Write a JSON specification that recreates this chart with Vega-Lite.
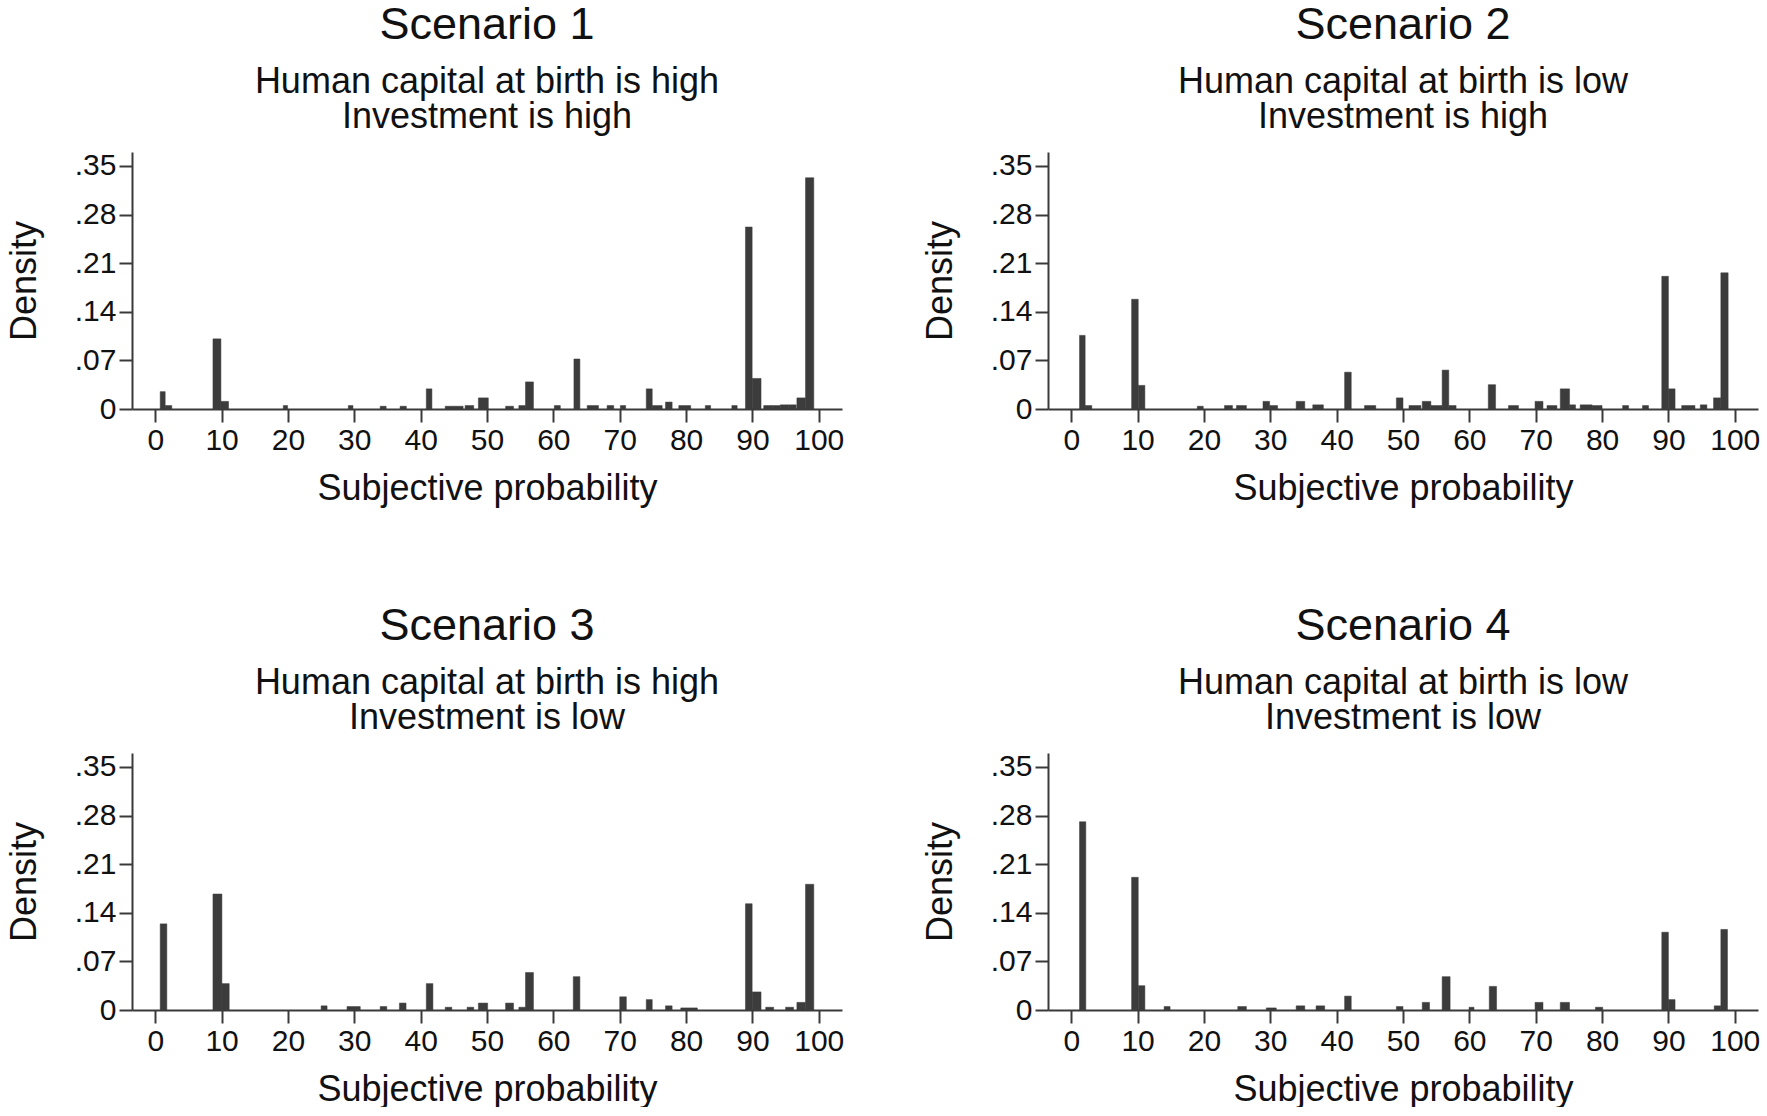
{
  "$schema": "https://vega.github.io/schema/vega-lite/v6.json",
  "background": "white",
  "padding": {"left": 6, "top": 2, "right": 4, "bottom": 0},
  "datasets": {
    "bars": [
      {"scenario": 1, "x0": 0.75, "x1": 1.5, "density": 0.025},
      {"scenario": 1, "x0": 1.5, "x1": 2.5, "density": 0.005},
      {"scenario": 1, "x0": 8.7, "x1": 9.9, "density": 0.101},
      {"scenario": 1, "x0": 9.9, "x1": 11.05, "density": 0.011},
      {"scenario": 1, "x0": 19.3, "x1": 19.95, "density": 0.005},
      {"scenario": 1, "x0": 29.1, "x1": 29.8, "density": 0.005},
      {"scenario": 1, "x0": 33.9, "x1": 34.8, "density": 0.004},
      {"scenario": 1, "x0": 36.9, "x1": 37.85, "density": 0.004},
      {"scenario": 1, "x0": 40.85, "x1": 41.7, "density": 0.029},
      {"scenario": 1, "x0": 43.7, "x1": 45.2, "density": 0.004},
      {"scenario": 1, "x0": 45.2, "x1": 46.4, "density": 0.004},
      {"scenario": 1, "x0": 46.7, "x1": 48.0, "density": 0.005},
      {"scenario": 1, "x0": 48.7, "x1": 50.2, "density": 0.016},
      {"scenario": 1, "x0": 52.8, "x1": 54.0, "density": 0.004},
      {"scenario": 1, "x0": 54.8, "x1": 55.8, "density": 0.005},
      {"scenario": 1, "x0": 55.8, "x1": 57.0, "density": 0.039},
      {"scenario": 1, "x0": 60.15, "x1": 61.05, "density": 0.005},
      {"scenario": 1, "x0": 63.1, "x1": 64.0, "density": 0.072},
      {"scenario": 1, "x0": 65.1, "x1": 66.8, "density": 0.005},
      {"scenario": 1, "x0": 68.1, "x1": 69.1, "density": 0.005},
      {"scenario": 1, "x0": 70.1, "x1": 70.9, "density": 0.005},
      {"scenario": 1, "x0": 74.0, "x1": 74.9, "density": 0.029},
      {"scenario": 1, "x0": 74.9, "x1": 76.4, "density": 0.005},
      {"scenario": 1, "x0": 76.9, "x1": 77.9, "density": 0.010},
      {"scenario": 1, "x0": 78.9, "x1": 80.7, "density": 0.005},
      {"scenario": 1, "x0": 82.9, "x1": 83.7, "density": 0.005},
      {"scenario": 1, "x0": 86.9, "x1": 87.7, "density": 0.005},
      {"scenario": 1, "x0": 88.95, "x1": 89.96, "density": 0.262},
      {"scenario": 1, "x0": 89.96, "x1": 91.3, "density": 0.044},
      {"scenario": 1, "x0": 91.7, "x1": 93.0, "density": 0.005},
      {"scenario": 1, "x0": 93.0, "x1": 94.2, "density": 0.005},
      {"scenario": 1, "x0": 94.2, "x1": 95.4, "density": 0.006},
      {"scenario": 1, "x0": 95.4, "x1": 96.6, "density": 0.006},
      {"scenario": 1, "x0": 96.7, "x1": 98.0, "density": 0.016},
      {"scenario": 1, "x0": 98.0, "x1": 99.25, "density": 0.333},

      {"scenario": 2, "x0": 1.25, "x1": 2.1, "density": 0.106},
      {"scenario": 2, "x0": 2.1, "x1": 3.1, "density": 0.005},
      {"scenario": 2, "x0": 9.1, "x1": 10.1, "density": 0.158},
      {"scenario": 2, "x0": 10.1, "x1": 11.1, "density": 0.034},
      {"scenario": 2, "x0": 19.0, "x1": 19.9, "density": 0.004},
      {"scenario": 2, "x0": 23.1, "x1": 24.3, "density": 0.005},
      {"scenario": 2, "x0": 24.9, "x1": 26.4, "density": 0.005},
      {"scenario": 2, "x0": 28.9, "x1": 29.9, "density": 0.011},
      {"scenario": 2, "x0": 29.9, "x1": 31.1, "density": 0.005},
      {"scenario": 2, "x0": 33.9, "x1": 35.2, "density": 0.011},
      {"scenario": 2, "x0": 36.4, "x1": 38.0, "density": 0.006},
      {"scenario": 2, "x0": 41.2, "x1": 42.2, "density": 0.053},
      {"scenario": 2, "x0": 44.2, "x1": 45.9, "density": 0.005},
      {"scenario": 2, "x0": 49.0, "x1": 50.0, "density": 0.016},
      {"scenario": 2, "x0": 50.9, "x1": 52.7, "density": 0.005},
      {"scenario": 2, "x0": 52.9, "x1": 54.2, "density": 0.011},
      {"scenario": 2, "x0": 54.2, "x1": 55.9, "density": 0.005},
      {"scenario": 2, "x0": 55.9, "x1": 56.9, "density": 0.056},
      {"scenario": 2, "x0": 56.9, "x1": 58.0, "density": 0.005},
      {"scenario": 2, "x0": 62.85, "x1": 63.95, "density": 0.035},
      {"scenario": 2, "x0": 65.9, "x1": 67.4, "density": 0.005},
      {"scenario": 2, "x0": 69.9, "x1": 71.1, "density": 0.011},
      {"scenario": 2, "x0": 71.7, "x1": 73.2, "density": 0.005},
      {"scenario": 2, "x0": 73.7, "x1": 75.1, "density": 0.029},
      {"scenario": 2, "x0": 75.1, "x1": 76.0, "density": 0.006},
      {"scenario": 2, "x0": 76.7, "x1": 78.5, "density": 0.006},
      {"scenario": 2, "x0": 78.5, "x1": 80.0, "density": 0.005},
      {"scenario": 2, "x0": 83.1, "x1": 84.0, "density": 0.005},
      {"scenario": 2, "x0": 86.1, "x1": 87.0, "density": 0.005},
      {"scenario": 2, "x0": 89.0, "x1": 90.0, "density": 0.191},
      {"scenario": 2, "x0": 90.0, "x1": 91.0, "density": 0.029},
      {"scenario": 2, "x0": 92.0, "x1": 94.0, "density": 0.005},
      {"scenario": 2, "x0": 94.8, "x1": 95.8, "density": 0.006},
      {"scenario": 2, "x0": 96.8, "x1": 97.9, "density": 0.016},
      {"scenario": 2, "x0": 97.9, "x1": 99.0, "density": 0.196},

      {"scenario": 3, "x0": 0.75, "x1": 1.75, "density": 0.124},
      {"scenario": 3, "x0": 8.7, "x1": 10.05, "density": 0.167},
      {"scenario": 3, "x0": 10.05, "x1": 11.15, "density": 0.038},
      {"scenario": 3, "x0": 25.0, "x1": 25.9, "density": 0.006},
      {"scenario": 3, "x0": 28.9, "x1": 30.9, "density": 0.005},
      {"scenario": 3, "x0": 33.9, "x1": 34.9, "density": 0.005},
      {"scenario": 3, "x0": 36.8, "x1": 37.8, "density": 0.010},
      {"scenario": 3, "x0": 40.85, "x1": 41.85, "density": 0.038},
      {"scenario": 3, "x0": 43.7, "x1": 44.7, "density": 0.004},
      {"scenario": 3, "x0": 47.0, "x1": 48.0, "density": 0.004},
      {"scenario": 3, "x0": 48.7, "x1": 50.1, "density": 0.010},
      {"scenario": 3, "x0": 52.8, "x1": 54.0, "density": 0.010},
      {"scenario": 3, "x0": 54.8, "x1": 55.8, "density": 0.004},
      {"scenario": 3, "x0": 55.8, "x1": 57.0, "density": 0.054},
      {"scenario": 3, "x0": 63.0, "x1": 64.0, "density": 0.048},
      {"scenario": 3, "x0": 70.0, "x1": 71.0, "density": 0.019},
      {"scenario": 3, "x0": 74.0, "x1": 74.9, "density": 0.015},
      {"scenario": 3, "x0": 76.9, "x1": 77.9, "density": 0.006},
      {"scenario": 3, "x0": 79.2, "x1": 81.7, "density": 0.003},
      {"scenario": 3, "x0": 88.95, "x1": 89.96, "density": 0.153},
      {"scenario": 3, "x0": 89.96, "x1": 91.3, "density": 0.026},
      {"scenario": 3, "x0": 92.0, "x1": 93.2, "density": 0.004},
      {"scenario": 3, "x0": 95.0, "x1": 96.2, "density": 0.004},
      {"scenario": 3, "x0": 96.7, "x1": 98.0, "density": 0.011},
      {"scenario": 3, "x0": 98.0, "x1": 99.25, "density": 0.181},

      {"scenario": 4, "x0": 1.25, "x1": 2.2, "density": 0.271},
      {"scenario": 4, "x0": 9.1, "x1": 10.1, "density": 0.191},
      {"scenario": 4, "x0": 10.1, "x1": 11.1, "density": 0.035},
      {"scenario": 4, "x0": 14.0, "x1": 14.9, "density": 0.005},
      {"scenario": 4, "x0": 25.1, "x1": 26.4, "density": 0.005},
      {"scenario": 4, "x0": 29.4, "x1": 30.9, "density": 0.003},
      {"scenario": 4, "x0": 33.9, "x1": 35.2, "density": 0.006},
      {"scenario": 4, "x0": 36.9, "x1": 38.2, "density": 0.006},
      {"scenario": 4, "x0": 41.2, "x1": 42.2, "density": 0.020},
      {"scenario": 4, "x0": 49.0, "x1": 50.0, "density": 0.005},
      {"scenario": 4, "x0": 52.9, "x1": 54.0, "density": 0.011},
      {"scenario": 4, "x0": 55.9, "x1": 57.1, "density": 0.048},
      {"scenario": 4, "x0": 59.95, "x1": 60.7, "density": 0.004},
      {"scenario": 4, "x0": 63.0, "x1": 64.1, "density": 0.034},
      {"scenario": 4, "x0": 69.9, "x1": 71.1, "density": 0.011},
      {"scenario": 4, "x0": 73.7, "x1": 75.1, "density": 0.011},
      {"scenario": 4, "x0": 79.0, "x1": 80.1, "density": 0.004},
      {"scenario": 4, "x0": 89.0, "x1": 90.0, "density": 0.112},
      {"scenario": 4, "x0": 90.0, "x1": 91.0, "density": 0.015},
      {"scenario": 4, "x0": 96.9, "x1": 97.9, "density": 0.006},
      {"scenario": 4, "x0": 97.9, "x1": 98.9, "density": 0.116}
    ]
  },
  "columns": 2,
  "spacing": {"row": 97, "column": 78},
  "concat": [
    {
      "title": {"text": "Scenario 1", "subtitle": ["Human capital at birth is high", "Investment is high"]},
      "data": {"name": "bars"},
      "transform": [{"filter": "datum.scenario == 1"}],
      "width": 710, "height": 257,
      "mark": {"type": "rect", "color": "#3c3c3c", "stroke": "#3c3c3c", "strokeWidth": 0.5},
      "encoding": {
        "x": {"field": "x0", "type": "quantitative", "scale": {"domain": [-3.5, 103.5], "nice": false, "zero": false}, "axis": {"title": "Subjective probability", "values": [0, 10, 20, 30, 40, 50, 60, 70, 80, 90, 100]}},
        "x2": {"field": "x1"},
        "y": {"field": "density", "type": "quantitative", "scale": {"domain": [0, 0.37], "nice": false}, "axis": {"title": "Density", "values": [0, 0.07, 0.14, 0.21, 0.28, 0.35], "labelExpr": "datum.value == 0 ? '0' : replace(format(datum.value, '.2f'), '0.', '.')"}},
        "y2": {"datum": 0}
      }
    },
    {
      "title": {"text": "Scenario 2", "subtitle": ["Human capital at birth is low", "Investment is high"]},
      "data": {"name": "bars"},
      "transform": [{"filter": "datum.scenario == 2"}],
      "width": 710, "height": 257,
      "mark": {"type": "rect", "color": "#3c3c3c", "stroke": "#3c3c3c", "strokeWidth": 0.5},
      "encoding": {
        "x": {"field": "x0", "type": "quantitative", "scale": {"domain": [-3.5, 103.5], "nice": false, "zero": false}, "axis": {"title": "Subjective probability", "values": [0, 10, 20, 30, 40, 50, 60, 70, 80, 90, 100]}},
        "x2": {"field": "x1"},
        "y": {"field": "density", "type": "quantitative", "scale": {"domain": [0, 0.37], "nice": false}, "axis": {"title": "Density", "values": [0, 0.07, 0.14, 0.21, 0.28, 0.35], "labelExpr": "datum.value == 0 ? '0' : replace(format(datum.value, '.2f'), '0.', '.')"}},
        "y2": {"datum": 0}
      }
    },
    {
      "title": {"text": "Scenario 3", "subtitle": ["Human capital at birth is high", "Investment is low"]},
      "data": {"name": "bars"},
      "transform": [{"filter": "datum.scenario == 3"}],
      "width": 710, "height": 257,
      "mark": {"type": "rect", "color": "#3c3c3c", "stroke": "#3c3c3c", "strokeWidth": 0.5},
      "encoding": {
        "x": {"field": "x0", "type": "quantitative", "scale": {"domain": [-3.5, 103.5], "nice": false, "zero": false}, "axis": {"title": "Subjective probability", "values": [0, 10, 20, 30, 40, 50, 60, 70, 80, 90, 100]}},
        "x2": {"field": "x1"},
        "y": {"field": "density", "type": "quantitative", "scale": {"domain": [0, 0.37], "nice": false}, "axis": {"title": "Density", "values": [0, 0.07, 0.14, 0.21, 0.28, 0.35], "labelExpr": "datum.value == 0 ? '0' : replace(format(datum.value, '.2f'), '0.', '.')"}},
        "y2": {"datum": 0}
      }
    },
    {
      "title": {"text": "Scenario 4", "subtitle": ["Human capital at birth is low", "Investment is low"]},
      "data": {"name": "bars"},
      "transform": [{"filter": "datum.scenario == 4"}],
      "width": 710, "height": 257,
      "mark": {"type": "rect", "color": "#3c3c3c", "stroke": "#3c3c3c", "strokeWidth": 0.5},
      "encoding": {
        "x": {"field": "x0", "type": "quantitative", "scale": {"domain": [-3.5, 103.5], "nice": false, "zero": false}, "axis": {"title": "Subjective probability", "values": [0, 10, 20, 30, 40, 50, 60, 70, 80, 90, 100]}},
        "x2": {"field": "x1"},
        "y": {"field": "density", "type": "quantitative", "scale": {"domain": [0, 0.37], "nice": false}, "axis": {"title": "Density", "values": [0, 0.07, 0.14, 0.21, 0.28, 0.35], "labelExpr": "datum.value == 0 ? '0' : replace(format(datum.value, '.2f'), '0.', '.')"}},
        "y2": {"datum": 0}
      }
    }
  ],
  "config": {
    "font": "Liberation Sans, Arial, sans-serif",
    "view": {"stroke": null},
    "title": {"fontSize": 45, "fontWeight": "normal", "color": "#111111", "anchor": "middle", "subtitleFontSize": 36, "subtitleColor": "#111111", "subtitleLineHeight": 35, "subtitlePadding": 17, "offset": 16},
    "axis": {
      "grid": false,
      "domainColor": "#3a3a3a", "domainWidth": 2,
      "tickColor": "#3a3a3a", "tickWidth": 2, "tickSize": 13,
      "labelFontSize": 30, "labelColor": "#111111", "labelPadding": 3,
      "titleFontSize": 36, "titleFontWeight": "normal", "titleColor": "#111111"
    },
    "axisX": {"titlePadding": 16, "labelFlush": false},
    "axisY": {"titlePadding": 31, "labelFlush": false}
  }
}
